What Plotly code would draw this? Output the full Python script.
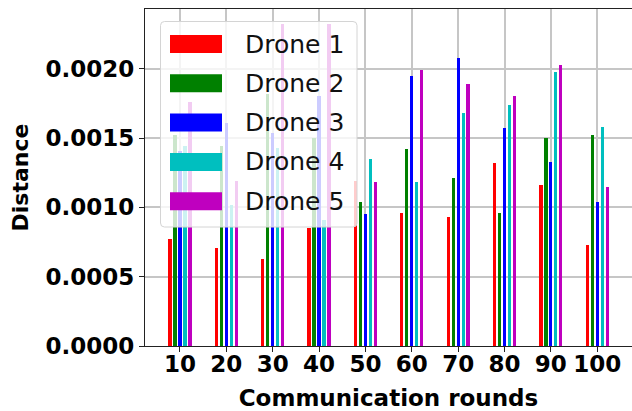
import numpy as np
import plotly.graph_objects as go

# Distance per drone for each communication round
rounds = [10, 20, 30, 40, 50, 60, 70, 80, 90, 100]
drone1 = [0.00077, 0.00071, 0.00063, 0.00085, 0.00119, 0.00096, 0.00093, 0.00132, 0.00116, 0.00073]
drone2 = [0.00152, 0.00144, 0.00182, 0.00150, 0.00104, 0.00142, 0.00121, 0.00096, 0.00150, 0.00152]
drone3 = [0.00141, 0.00161, 0.00154, 0.00180, 0.00095, 0.00195, 0.00208, 0.00157, 0.00133, 0.00104]
drone4 = [0.00144, 0.00102, 0.00143, 0.00091, 0.00135, 0.00118, 0.00168, 0.00174, 0.00198, 0.00158]
drone5 = [0.00176, 0.00119, 0.00232, 0.00232, 0.00118, 0.00199, 0.00189, 0.00180, 0.00203, 0.00115]

names = ["Drone 1", "Drone 2", "Drone 3", "Drone 4", "Drone 5"]
series = [drone1, drone2, drone3, drone4, drone5]
colors = ["#ff0000", "#008000", "#0000ff", "#00bfbf", "#bf00bf"]
y_ticks = [0.0, 0.0005, 0.0010, 0.0015, 0.0020]
y_ticktext = ["0.0000", "0.0005", "0.0010", "0.0015", "0.0020"]

W, H = 632, 411
L, R, T, B = 145, 0, 9, 65
x_range = [2.46, 107.5]
y_range = [0, 0.002431]

FONT = "DejaVu Sans"
spacing = 1.075
bar_w = 0.7

fig = go.Figure()
for i, (name, vals, col) in enumerate(zip(names, series, colors)):
    offset = (i - 2) * spacing
    fig.add_trace(go.Bar(
        x=np.array(rounds) + offset,
        y=vals,
        width=bar_w,
        name=name,
        marker=dict(color=col, line=dict(width=0)),
        showlegend=False,
    ))

# pixel -> paper helpers for the hand-built legend
pw, ph = W - L - R, H - T - B
def px(x):
    return (x - L) / pw
def py(y):
    return (H - B - y) / ph

shapes = []
# legend frame with rounded corners
x0, x1, y0, y1, r = 160.5, 357, 21.5, 227, 4
path = (
    f"M {px(x0 + r)},{py(y0)} L {px(x1 - r)},{py(y0)} "
    f"Q {px(x1)},{py(y0)} {px(x1)},{py(y0 + r)} "
    f"L {px(x1)},{py(y1 - r)} Q {px(x1)},{py(y1)} {px(x1 - r)},{py(y1)} "
    f"L {px(x0 + r)},{py(y1)} Q {px(x0)},{py(y1)} {px(x0)},{py(y1 - r)} "
    f"L {px(x0)},{py(y0 + r)} Q {px(x0)},{py(y0)} {px(x0 + r)},{py(y0)} Z"
)
shapes.append(dict(type="path", path=path, xref="paper", yref="paper",
                   fillcolor="rgba(255,255,255,0.8)",
                   line=dict(color="#d4d4d4", width=1), layer="above"))

annotations = []
row_top = 35.0
row_step = 39.3
for i, (name, col) in enumerate(zip(names, colors)):
    top = row_top + i * row_step
    shapes.append(dict(type="rect", xref="paper", yref="paper",
                       x0=px(170), x1=px(222), y0=py(top + 18), y1=py(top),
                       fillcolor=col, line=dict(width=0), layer="above"))
    annotations.append(dict(x=px(243), y=py(top + 9), xref="paper", yref="paper",
                            text=name, showarrow=False, xanchor="left", yanchor="middle",
                            font=dict(family=FONT, size=25, color="#111111")))

fig.update_layout(
    width=W, height=H,
    margin=dict(l=L, r=R, t=T, b=B, pad=0),
    paper_bgcolor="white", plot_bgcolor="white",
    barmode="overlay",
    bargap=0,
    shapes=shapes,
    annotations=annotations,
    font=dict(family=FONT, color="black"),
)

fig.update_xaxes(
    range=x_range,
    tickmode="array", tickvals=rounds, ticktext=[str(v) for v in rounds],
    tickfont=dict(family=FONT, size=23, color="black", weight="bold"),
    ticks="outside", ticklen=5, tickwidth=1, tickcolor="#222",
    ticklabelstandoff=-8,
    showgrid=True, gridcolor="#c6c6c6", gridwidth=1.5,
    showline=True, linecolor="#222", linewidth=1.2, mirror=True,
    zeroline=False,
    title=dict(text="<b>Communication rounds</b>", standoff=16,
               font=dict(family=FONT, size=23, color="black")),
)
fig.update_yaxes(
    range=y_range,
    tickmode="array", tickvals=y_ticks, ticktext=y_ticktext,
    tickfont=dict(family=FONT, size=23, color="black", weight="bold"),
    ticks="outside", ticklen=5, tickwidth=1, tickcolor="#222",
    showgrid=True, gridcolor="#c6c6c6", gridwidth=1.5,
    showline=True, linecolor="#222", linewidth=1.2, mirror=False,
    zeroline=False,
    title=dict(text="<b>Distance</b>", standoff=10,
               font=dict(family=FONT, size=22, color="black")),
)

fig.write_html("out.html")
